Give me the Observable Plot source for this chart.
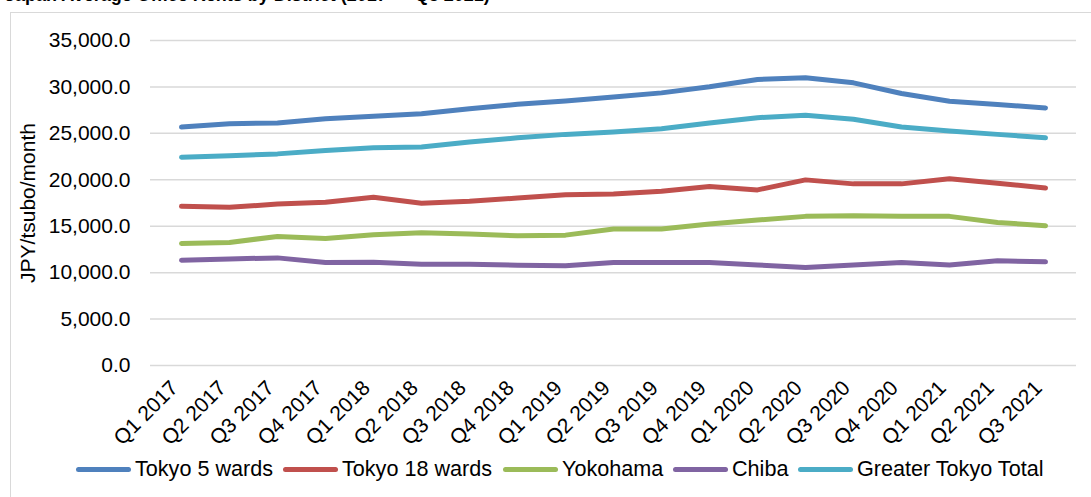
<!DOCTYPE html>
<html>
<head>
<meta charset="utf-8">
<script src="https://cdn.jsdelivr.net/npm/d3@7"></script>
<script src="https://cdn.jsdelivr.net/npm/@observablehq/plot@0.6"></script>
<style>
  html, body { margin: 0; padding: 0; background: #fff; width: 1091px; height: 497px; overflow: hidden; }
  body { position: relative; font-family: "Liberation Sans", Arial, sans-serif; }
  #title { position: absolute; left: 5px; top: -14px; font-size: 18px; line-height: 18px; font-weight: bold; color: #000; white-space: nowrap; }
  #frame { position: absolute; left: 10px; top: 12px; width: 1120px; height: 520px; border: 1.5px solid #d9d9d9; box-sizing: border-box; }
  #chart { position: absolute; left: 0; top: 0; }
  #legend { position: absolute; left: 0; top: 0; font-size: 21.6px; color: #000; white-space: nowrap; }
  .item { position: absolute; top: 456px; height: 26px; display: flex; align-items: center; }
  .sw { width: 55px; height: 5px; border-radius: 3px; margin-right: 4px; }
</style>
</head>
<body>
<div id="frame"></div>
<div id="title">Japan Average Office Rents by District (2017 — Q3 2021)</div>
<div id="chart"></div>
<div id="legend"></div>
<script>
const quarters = ["Q1 2017","Q2 2017","Q3 2017","Q4 2017","Q1 2018","Q2 2018","Q3 2018","Q4 2018","Q1 2019","Q2 2019","Q3 2019","Q4 2019","Q1 2020","Q2 2020","Q3 2020","Q4 2020","Q1 2021","Q2 2021","Q3 2021"];
const seriesNames = ["Tokyo 5 wards","Tokyo 18 wards","Yokohama","Chiba","Greater Tokyo Total"];
const seriesColors = ["#4f81bd","#c0504d","#9bbb59","#8064a2","#4bacc6"];
const tokyo5 = [25680, 26040, 26110, 26580, 26840, 27120, 27660, 28130, 28490, 28920, 29360, 30010, 30800, 30980, 30440, 29290, 28460, 28100, 27740];
const tokyo18 = [17140, 17030, 17390, 17570, 18110, 17470, 17680, 18040, 18400, 18480, 18760, 19270, 18910, 19990, 19560, 19560, 20100, 19630, 19120];
const yokohama = [13140, 13250, 13900, 13680, 14080, 14290, 14150, 13970, 14040, 14690, 14690, 15230, 15660, 16060, 16130, 16060, 16060, 15410, 15050];
const chiba = [11340, 11480, 11590, 11090, 11120, 10910, 10910, 10800, 10730, 11090, 11090, 11090, 10830, 10550, 10830, 11090, 10830, 11270, 11160];
const greaterTokyo = [22430, 22580, 22790, 23160, 23440, 23520, 24060, 24520, 24890, 25140, 25500, 26110, 26690, 26940, 26510, 25680, 25250, 24890, 24520];
const yTicks = [0, 5000, 10000, 15000, 20000, 25000, 30000, 35000];
const yLabel = "JPY/tsubo/month";

const seriesValues = [tokyo5, tokyo18, yokohama, chiba, greaterTokyo];
const rows = [];
seriesNames.forEach((name, si) => {
  seriesValues[si].forEach((v, i) => rows.push({series: name, quarter: quarters[i], value: v}));
});

const fmt = d3.format(",.1f");
const plot = Plot.plot({
  width: 1091,
  height: 497,
  marginLeft: 150,
  marginRight: 15,
  marginTop: 40,
  marginBottom: 132,
  style: { fontFamily: "'Liberation Sans', Arial, sans-serif", fontSize: "21px", color: "#000", background: "transparent", overflow: "visible" },
  x: { type: "point", domain: quarters, padding: 0.5 },
  y: { domain: [0, 35000] },
  color: { domain: seriesNames, range: seriesColors },
  marks: [
    Plot.ruleY(yTicks, { stroke: "#d9d9d9", strokeWidth: 1.5 }),
    Plot.axisY({ ticks: yTicks, tickFormat: fmt, tickSize: 0, tickPadding: 20, label: null, fontSize: 21 }),
    Plot.axisX({ tickRotate: -45, tickSize: 0, tickPadding: 14, dx: -7, dy: 5, label: null, fontSize: 21 }),
    Plot.line(rows, { x: "quarter", y: "value", z: "series", stroke: "series", strokeWidth: 5, strokeLinecap: "round", strokeLinejoin: "round", curve: "linear" })
  ]
});
document.getElementById("chart").appendChild(plot);

d3.select(plot).append("text")
  .attr("transform", "translate(28,203) rotate(-90)")
  .attr("text-anchor", "middle")
  .attr("dy", "0.35em")
  .attr("font-size", 21)
  .attr("fill", "#000")
  .text(yLabel);

const legendLefts = [76, 283, 503, 673, 798];
const legend = d3.select("#legend");
seriesNames.forEach((name, i) => {
  const it = legend.append("div").attr("class", "item").style("left", legendLefts[i] + "px");
  it.append("div").attr("class", "sw").style("background", seriesColors[i]);
  it.append("span").text(name);
});
</script>
</body>
</html>
